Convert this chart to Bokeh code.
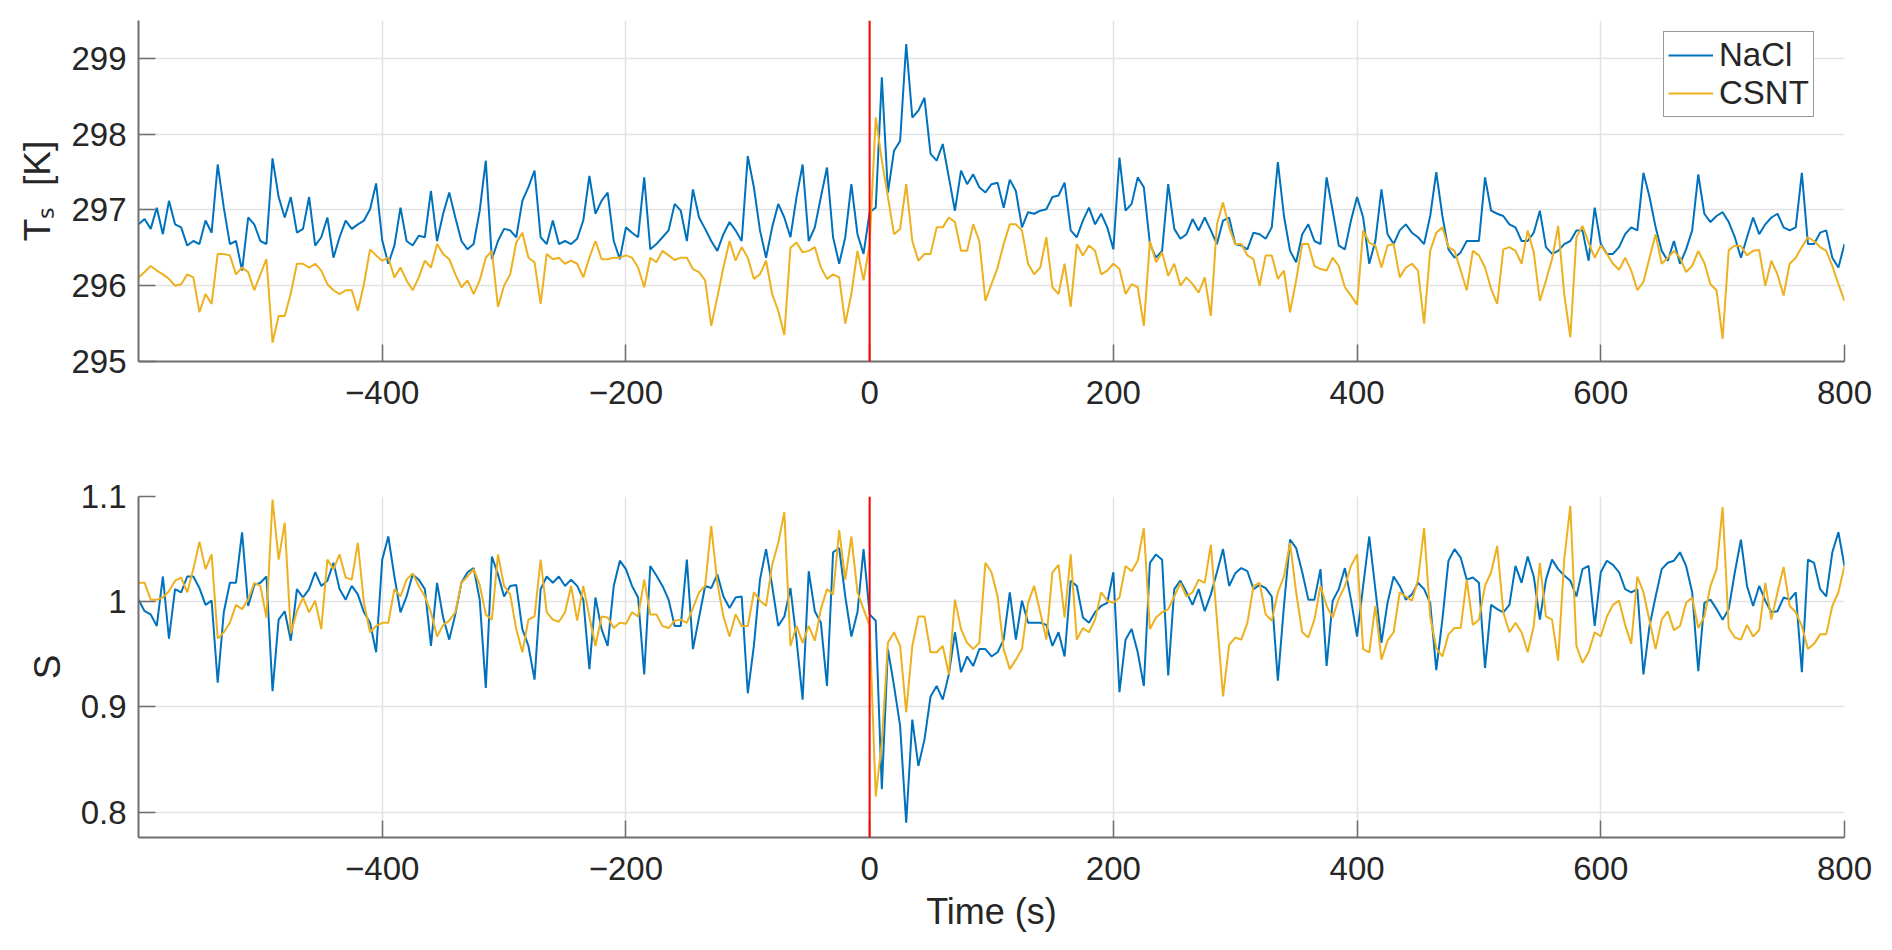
from bokeh.plotting import figure
from bokeh.layouts import column
from bokeh.models import Span, FixedTicker, CustomJSTickFormatter, Range1d
from bokeh.embed import file_html
from bokeh.resources import INLINE

# ---------------- data (5 s sampling) ----------------
time_s = list(range(-600, 801, 5))

ts_nacl = [
    296.81, 296.88, 296.75, 297.03, 296.68, 297.12, 296.81, 296.77, 296.53, 296.59,
    296.55, 296.86, 296.70, 297.60, 297.03, 296.55, 296.59, 296.20, 296.90, 296.81,
    296.59, 296.55, 297.68, 297.17, 296.90, 297.17, 296.70, 296.75, 297.17, 296.53,
    296.64, 296.90, 296.37, 296.64, 296.86, 296.75, 296.81, 296.86, 297.01, 297.35,
    296.60, 296.29, 296.53, 297.03, 296.59, 296.53, 296.66, 296.64, 297.25, 296.59,
    296.95, 297.23, 296.90, 296.59, 296.48, 296.55, 296.99, 297.65, 296.35, 296.59,
    296.75, 296.73, 296.64, 297.12, 297.30, 297.52, 296.64, 296.55, 296.86, 296.55,
    296.59, 296.55, 296.62, 296.86, 297.45, 296.95, 297.12, 297.23, 296.59, 296.35,
    296.77, 296.70, 296.64, 297.43, 296.48, 296.55, 296.64, 296.73, 297.08, 296.99,
    296.59, 297.27, 296.90, 296.75, 296.59, 296.46, 296.68, 296.84, 296.73, 296.59,
    297.71, 297.30, 296.73, 296.37, 296.77, 297.08, 296.90, 296.64, 297.17, 297.60,
    296.59, 296.77, 297.17, 297.56, 296.64, 296.29, 296.64, 297.34, 296.68, 296.42,
    296.97, 297.03, 298.75, 297.23, 297.78, 297.91, 299.19, 298.22, 298.31, 298.48,
    297.74, 297.65, 297.87, 297.43, 296.99, 297.52, 297.34, 297.47, 297.30, 297.23,
    297.34,
    297.36, 297.03, 297.40, 297.25, 296.77, 296.97, 296.95, 296.99, 297.01, 297.17,
    297.19, 297.36, 296.73, 296.64, 296.86, 297.03, 296.81, 296.95, 296.77, 296.48,
    297.69, 296.99, 297.08, 297.43, 297.30, 296.55, 296.37, 296.46, 297.34, 296.75,
    296.62, 296.68, 296.88, 296.73, 296.90, 296.73, 296.55, 296.86, 296.90, 296.55,
    296.53, 296.48, 296.70, 296.68, 296.62, 296.77, 297.63, 296.92, 296.46, 296.31,
    296.68, 296.81, 296.59, 296.55, 297.43, 296.99, 296.53, 296.48, 296.86, 297.17,
    296.90, 296.29, 296.59, 297.27, 296.68, 296.55, 296.73, 296.81, 296.70, 296.64,
    296.55,
    296.92, 297.50, 296.92, 296.48, 296.37, 296.44, 296.59, 296.59, 296.59, 297.43,
    296.99, 296.95, 296.92, 296.81, 296.77, 296.59, 296.59, 296.70, 296.99, 296.51,
    296.42, 296.46, 296.55, 296.59, 296.73, 296.73, 296.33, 297.03, 296.55, 296.42,
    296.42, 296.51, 296.68, 296.77, 296.73, 297.49, 297.17, 296.77, 296.46, 296.33,
    296.59, 296.29, 296.48, 296.73, 297.47, 296.95, 296.84, 296.92, 296.97, 296.84,
    296.64, 296.37, 296.64, 296.90, 296.68, 296.81, 296.90, 296.95, 296.77, 296.73,
    296.77, 297.49, 296.55, 296.55, 296.70, 296.73, 296.37, 296.24, 296.55,
]

ts_csnt = [
    296.11, 296.18, 296.26, 296.20, 296.15, 296.09, 296.00, 296.02, 296.15, 296.11,
    295.65, 295.89, 295.76, 296.42, 296.42, 296.40, 296.15, 296.24, 296.18, 295.94,
    296.15, 296.35, 295.25, 295.60, 295.60, 295.90, 296.29, 296.29, 296.24, 296.29,
    296.20, 296.02, 295.94, 295.89, 295.94, 295.94, 295.67, 296.02, 296.48, 296.40,
    296.33, 296.37, 296.11, 296.24, 296.07, 295.94, 296.11, 296.33, 296.24, 296.55,
    296.42, 296.35, 296.15, 295.98, 296.07, 295.89, 296.07, 296.37, 296.46, 295.72,
    296.00, 296.15, 296.57, 296.70, 296.37, 296.31, 295.76, 296.42, 296.35, 296.37,
    296.29, 296.33, 296.29, 296.11, 296.37, 296.59, 296.35, 296.35, 296.37, 296.37,
    296.40, 296.37, 296.24, 295.98, 296.37, 296.31, 296.46, 296.40, 296.34, 296.37,
    296.37, 296.22, 296.18, 296.07, 295.47, 295.85, 296.24, 296.59, 296.33, 296.51,
    296.37, 296.09, 296.15, 296.33, 295.89, 295.67, 295.35, 296.50, 296.57, 296.44,
    296.46, 296.51, 296.24, 296.09, 296.15, 296.11, 295.50, 295.89, 296.46, 296.07,
    296.55, 298.22, 297.65, 297.17, 296.68, 296.75, 297.34, 296.59, 296.33, 296.42,
    296.42, 296.77, 296.77, 296.90, 296.84, 296.46, 296.46, 296.81, 296.59, 295.80,
    296.02,
    296.24, 296.55, 296.81, 296.81, 296.73, 296.29, 296.15, 296.24, 296.64, 295.98,
    295.89, 296.29, 295.72, 296.55, 296.40, 296.53, 296.46, 296.15, 296.20, 296.29,
    296.22, 295.89, 296.02, 295.98, 295.47, 296.59, 296.31, 296.44, 296.13, 296.29,
    296.00, 296.11, 296.02, 295.91, 296.11, 295.60, 296.81, 297.10, 296.77, 296.55,
    296.55, 296.40, 296.35, 296.00, 296.40, 296.40, 296.09, 296.20, 295.65, 296.07,
    296.55, 296.55, 296.26, 296.22, 296.20, 296.37, 296.26, 295.98, 295.87, 295.75,
    296.73, 296.57, 296.53, 296.24, 296.53, 296.55, 296.11, 296.24, 296.29, 296.20,
    295.50,
    296.46, 296.70, 296.77, 296.51, 296.46, 296.20, 295.94, 296.46, 296.40, 296.24,
    295.96, 295.76, 296.48, 296.51, 296.46, 296.29, 296.73, 296.44, 295.80, 296.07,
    296.35, 296.79, 295.89, 295.32, 296.64, 296.79, 296.57, 296.37, 296.53, 296.42,
    296.29, 296.21, 296.37, 296.20, 295.94, 296.05, 296.37, 296.68, 296.29, 296.37,
    296.46, 296.37, 296.18, 296.26, 296.46, 296.30, 296.02, 295.94, 295.30, 296.47,
    296.53, 296.52, 296.40, 296.46, 296.47, 296.00, 296.33, 296.15, 295.87, 296.29,
    296.37, 296.51, 296.64, 296.59, 296.51, 296.46, 296.26, 296.02, 295.80,
]

s_nacl = [
    1.002, 0.991, 0.988, 0.977, 1.024, 0.965, 1.012, 1.009, 1.024, 1.024,
    1.013, 0.997, 1.001, 0.923, 0.990, 1.018, 1.018, 1.066, 0.996, 1.016,
    1.018, 1.024, 0.915, 0.983, 0.991, 0.963, 1.012, 1.004, 1.012, 1.028,
    1.015, 1.020, 1.037, 1.012, 1.002, 1.015, 1.007, 0.990, 0.980, 0.952,
    1.040, 1.062, 1.024, 0.990, 1.005, 1.026, 1.021, 1.012, 0.958, 1.018,
    0.985, 0.964, 0.988, 1.018, 1.028, 1.032, 1.002, 0.918, 1.043, 1.026,
    1.005, 1.015, 1.016, 0.974, 0.958, 0.926, 1.012, 1.024, 1.018, 1.024,
    1.015, 1.021, 1.015, 1.002, 0.936, 1.004, 0.974, 0.958, 1.015, 1.039,
    1.031, 1.015, 1.004, 0.931, 1.034, 1.025, 1.015, 1.002, 0.977, 0.977,
    1.040, 0.955, 0.985, 1.015, 1.013, 1.026, 1.005, 0.994, 1.004, 1.005,
    0.913, 0.958, 1.021, 1.050, 1.015, 0.977, 0.986, 1.013, 0.964, 0.907,
    1.029, 0.991, 0.980, 0.920, 1.047, 1.051, 1.005, 0.967, 0.990, 1.050,
    0.988, 0.982, 0.822, 0.955, 0.920, 0.882, 0.790, 0.888, 0.844, 0.869,
    0.910, 0.920, 0.907, 0.931, 0.971, 0.933, 0.948, 0.939, 0.955, 0.955,
    0.948,
    0.952, 0.964, 1.009, 0.964, 1.001, 0.980, 0.980, 0.980, 0.978, 0.958,
    0.971, 0.948, 1.020, 1.015, 0.985, 0.980, 0.990, 0.996, 0.999, 1.028,
    0.914, 0.964, 0.974, 0.952, 0.920, 1.037, 1.045, 1.040, 0.930, 1.012,
    1.020, 1.009, 0.997, 1.012, 0.991, 1.007, 1.028, 1.050, 1.015, 1.027,
    1.032, 1.029, 1.012, 1.016, 1.013, 1.005, 0.925, 0.996, 1.059, 1.051,
    1.028, 1.002, 1.002, 1.031, 0.939, 1.001, 1.012, 1.032, 1.002, 0.967,
    1.015, 1.062, 1.012, 0.961, 0.999, 1.024, 1.015, 1.002, 1.007, 1.018,
    1.012,
    0.999, 0.935, 0.983, 1.039, 1.050, 1.042, 1.021, 1.023, 1.018, 0.937,
    0.997, 0.993, 0.990, 0.997, 1.034, 1.018, 1.043, 1.024, 0.983, 1.021,
    1.040, 1.031, 1.025, 1.020, 1.005, 1.031, 1.034, 0.977, 1.028, 1.039,
    1.035, 1.028, 1.012, 1.009, 1.012, 0.931, 0.977, 1.005, 1.031, 1.037,
    1.039, 1.047, 1.034, 1.009, 0.934, 0.999, 1.002, 0.993, 0.983, 0.993,
    1.028, 1.059, 1.015, 0.996, 1.015, 1.001, 0.990, 0.991, 1.004, 1.002,
    1.009, 0.933, 1.040, 1.037, 1.012, 1.005, 1.047, 1.066, 1.034,
]

s_csnt = [
    1.018, 1.018, 1.002, 1.002, 1.004, 1.010, 1.020, 1.023, 1.009, 1.031,
    1.057, 1.031, 1.045, 0.965, 0.971, 0.980, 0.997, 0.993, 1.002, 1.018,
    1.015, 0.985, 1.097, 1.040, 1.075, 0.970, 0.991, 1.004, 0.990, 1.001,
    0.974, 1.040, 1.031, 1.045, 1.023, 1.021, 1.056, 0.999, 0.971, 0.977,
    0.980, 0.980, 1.012, 1.005, 1.021, 1.027, 1.015, 1.005, 0.990, 0.967,
    0.978, 0.982, 0.990, 1.018, 1.024, 1.031, 1.016, 0.988, 0.983, 1.045,
    1.015, 1.007, 0.974, 0.952, 0.983, 0.986, 1.040, 0.990, 0.983, 0.981,
    0.990, 1.015, 0.982, 1.015, 0.986, 0.958, 0.986, 0.985, 0.975, 0.980,
    0.979, 0.990, 0.986, 1.021, 0.988, 0.988, 0.977, 0.975, 0.982, 0.983,
    0.980, 0.994, 1.009, 1.015, 1.072, 1.018, 0.986, 0.967, 0.988, 0.977,
    0.977, 1.009, 1.001, 0.996, 1.035, 1.056, 1.085, 0.958, 0.977, 0.961,
    0.977, 0.963, 0.993, 1.012, 1.007, 1.068, 1.021, 1.062, 1.009, 0.993,
    0.977, 0.815, 0.866, 0.961, 0.971, 0.958, 0.895, 0.958, 0.986, 0.986,
    0.952, 0.952, 0.958, 0.931, 1.002, 0.974, 0.961, 0.955, 0.961, 1.037,
    1.028,
    1.005, 0.955, 0.936, 0.945, 0.955, 0.999, 1.015, 0.990, 0.964, 1.028,
    1.035, 0.985, 1.045, 0.964, 0.975, 0.971, 0.983, 1.009, 1.001, 0.999,
    1.004, 1.034, 1.029, 1.039, 1.070, 0.974, 0.985, 0.990, 0.993, 1.005,
    1.018, 1.005, 1.009, 1.021, 1.018, 1.054, 0.983, 0.910, 0.959, 0.966,
    0.964, 0.980, 1.015, 1.018, 0.988, 0.982, 1.009, 1.024, 1.056, 1.009,
    0.971, 0.966, 0.983, 1.015, 0.996, 0.985, 1.003, 1.015, 1.034, 1.045,
    0.955, 0.952, 0.996, 0.945, 0.963, 0.971, 1.009, 1.005, 1.001, 1.021,
    1.070,
    0.986, 0.956, 0.948, 0.969, 0.975, 0.975, 1.021, 0.978, 0.983, 1.015,
    1.028, 1.053, 0.990, 0.971, 0.980, 0.971, 0.952, 0.977, 1.037, 0.986,
    0.983, 0.944, 1.040, 1.091, 0.958, 0.942, 0.952, 0.971, 0.967, 0.986,
    0.997, 1.001, 0.978, 0.960, 1.024, 1.009, 0.982, 0.955, 0.983, 0.991,
    0.973, 0.977, 0.999, 1.004, 0.975, 0.986, 1.015, 1.031, 1.090, 0.975,
    0.966, 0.964, 0.978, 0.967, 0.973, 1.018, 0.983, 1.009, 1.033, 0.996,
    0.990, 0.977, 0.955, 0.960, 0.969, 0.969, 0.996, 1.009, 1.034,
]

x_ticks = [-400, -200, 0, 200, 400, 600, 800]
ts_ticks = [295, 296, 297, 298, 299]
s_ticks = [0.8, 0.9, 1.0, 1.1]
series_names = ["NaCl", "CSNT"]
event_time = 0

# ---------------- styling ----------------
BLUE = "#0072BD"
YELLOW = "#EDB120"
FONT = "Liberation Sans"
TXT = "#262626"

fmt = CustomJSTickFormatter(code='return tick < 0 ? "\u2212" + (-tick) : String(tick);')


def style(p, yticks, ylabel):
    p.outline_line_color = None
    p.background_fill_color = "white"
    p.border_fill_color = "white"
    p.xaxis.ticker = FixedTicker(ticks=x_ticks)
    p.yaxis.ticker = FixedTicker(ticks=yticks)
    p.xaxis.formatter = fmt
    p.yaxis.formatter = fmt
    for ax in (p.xaxis[0], p.yaxis[0]):
        ax.axis_line_color = "#6e6e6e"
        ax.axis_line_width = 2
        ax.major_tick_line_color = "#6e6e6e"
        ax.major_tick_line_width = 1.5
        ax.major_tick_in = 17
        ax.major_tick_out = 0
        ax.minor_tick_line_color = None
        ax.major_label_text_font = FONT
        ax.major_label_text_font_size = "33px"
        ax.major_label_text_color = TXT
        ax.axis_label_text_font = FONT
        ax.axis_label_text_font_size = "36px"
        ax.axis_label_text_font_style = "normal"
        ax.axis_label_text_color = TXT
    p.xaxis.major_label_standoff = 19
    p.yaxis.major_label_standoff = 12
    p.yaxis.axis_label = ylabel
    p.yaxis.axis_label_standoff = 10
    p.yaxis.axis_label_text_font_size = "37px"
    p.grid.grid_line_color = "#e2e2e2"
    p.grid.grid_line_width = 1.5
    p.add_layout(Span(location=event_time, dimension="height",
                      line_color="#FF0000", line_width=2))


common = dict(frame_width=1706, frame_height=341, output_backend="svg",
              toolbar_location=None, title=None, min_border_left=138,
              min_border_right=40)

p1 = figure(x_range=Range1d(-600, 800), y_range=Range1d(295, 299.5),
            min_border_top=20, min_border_bottom=101, **common)
p1.line(time_s, ts_nacl, line_color=BLUE, line_width=2, legend_label=series_names[0])
p1.line(time_s, ts_csnt, line_color=YELLOW, line_width=2, legend_label=series_names[1])
style(p1, ts_ticks, "T\u209b\u00a0\u00a0[K]")
p1.xaxis.axis_label = None

leg = p1.legend[0]
leg.location = (1525, 244)
leg.glyph_width = 45
leg.glyph_height = 38
leg.label_height = 38
leg.spacing = 0
leg.padding = 4
leg.margin = 0
leg.label_standoff = 6
leg.label_text_font = FONT
leg.label_text_font_size = "33px"
leg.label_text_color = TXT
leg.border_line_color = "#333333"
leg.border_line_width = 1.5
leg.background_fill_color = "white"
leg.background_fill_alpha = 1.0

p2 = figure(x_range=Range1d(-600, 800), y_range=Range1d(0.776, 1.1),
            min_border_top=34, min_border_bottom=100, **common)
p2.line(time_s, s_nacl, line_color=BLUE, line_width=2)
p2.line(time_s, s_csnt, line_color=YELLOW, line_width=2)
style(p2, s_ticks, "S")
p2.xaxis.axis_label = "Time (s)"
p2.xaxis.axis_label_standoff = 8

layout = column(p1, p2, spacing=0)
open("out.html", "w").write(file_html(layout, INLINE))
